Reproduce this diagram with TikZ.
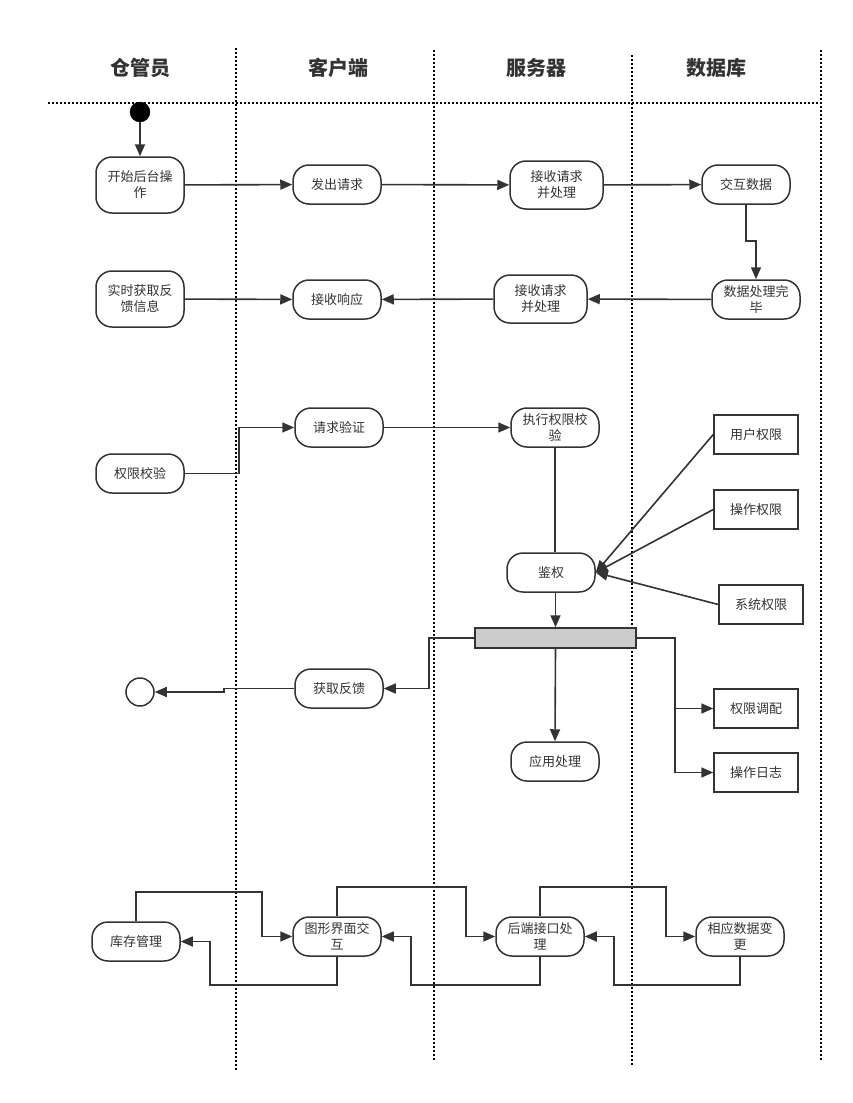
\documentclass[tikz,border=0pt]{standalone}
\usepackage{fontspec}
\setmainfont{Noto Sans CJK SC}
\usetikzlibrary{arrows.meta}
\definecolor{ink}{HTML}{333333}
\definecolor{barfill}{HTML}{CCCCCC}
\begin{document}
\begin{tikzpicture}[x=1pt,y=-1pt,
  act/.style={draw=ink, line width=1.5pt, rounded corners=16pt, align=center,
    font=\fontsize{13}{16}\selectfont, text=ink, inner sep=0pt,
    minimum width=88pt, minimum height=39pt},
  blk/.style={draw=ink, line width=1.5pt, align=center,
    font=\fontsize{13}{16}\selectfont, text=ink, inner sep=0pt,
    minimum width=84pt, minimum height=39pt},
  lane/.style={line width=1.2pt, dash pattern=on 1.5pt off 2.5pt, draw=black},
  hdr/.style={font=\fontsize{20}{24}\selectfont\bfseries, text=ink},
  arr/.style={line width=1.6pt, draw=ink, -{Triangle[length=12pt,width=10pt]}},
  ln/.style={line width=1.6pt, draw=ink}]
\useasboundingbox (0,0) rectangle (853,1103);
% swimlanes
\coordinate (l1t) at (236,48);  \coordinate (l1b) at (236,1070);
\coordinate (l2t) at (434,50);  \coordinate (l2b) at (434,1062);
\coordinate (l3t) at (632,55);  \coordinate (l3b) at (632,1065);
\coordinate (l4t) at (821,50);  \coordinate (l4b) at (821,1060);
\coordinate (hl) at (48,103);   \coordinate (hr) at (821,103);
\draw[lane] (l1t) -- (l1b);
\draw[lane] (l2t) -- (l2b);
\draw[lane] (l3t) -- (l3b);
\draw[lane] (l4t) -- (l4b);
\draw[lane] (hl) -- (hr);
% headers
\node[hdr] (h1) at (140,68) {仓管员};
\node[hdr] (h2) at (338,68) {客户端};
\node[hdr] (h3) at (536,68) {服务器};
\node[hdr] (h4) at (716,68) {数据库};
% start
\node[circle, fill=black, draw=black, minimum size=20pt, inner sep=0pt] (start) at (140,112) {};
% row 1
\node[act, minimum height=56pt] (a1) at (140,185) {开始后台操\\作};
\node[act] (a2) at (337,184.5) {发出请求};
\node[act, minimum width=93pt, minimum height=48pt] (a3) at (556.5,185) {接收请求\\并处理};
\node[act] (a4) at (746,184.5) {交互数据};
% row 2
\node[act, minimum height=56pt] (b1) at (140,299) {实时获取反\\馈信息};
\node[act] (b2) at (337,299.5) {接收响应};
\node[act, minimum width=93pt, minimum height=48pt] (b3) at (540.5,299) {接收请求\\并处理};
\node[act] (b4) at (756,299.5) {数据处理完\\毕};
% row 3
\node[act] (c1) at (140,473.5) {权限校验};
\node[act] (c2) at (339,427.5) {请求验证};
\node[act] (c3) at (555,427.5) {执行权限校\\验};
\node[blk] (c4) at (756,434.5) {用户权限};
\node[blk] (c5) at (756,509.5) {操作权限};
\node[blk] (c6) at (761,604.5) {系统权限};
\node[act] (d1) at (551,572.5) {鉴权};
\node[draw=ink, line width=1.5pt, fill=barfill, minimum width=161pt, minimum height=20pt, inner sep=0pt] (bar) at (555.5,638) {};
\node[act] (d2) at (339,688.5) {获取反馈};
\node[circle, draw=ink, line width=1.5pt, fill=white, minimum size=28pt, inner sep=0pt] (end) at (140,692) {};
\node[act] (d3) at (555,761.5) {应用处理};
\node[blk] (d4) at (756,708.5) {权限调配};
\node[blk] (d5) at (756,772.5) {操作日志};
% row 4
\node[act] (e1) at (136,941.5) {库存管理};
\node[act] (e2) at (337,936.5) {图形界面交\\互};
\node[act] (e3) at (540,936.5) {后端接口处\\理};
\node[act] (e4) at (740,936.5) {相应数据变\\更};
% connectors
\draw[arr] (start) -- (a1);
\draw[arr] (a1) -- (a2);
\draw[arr] (a2) -- (a3);
\draw[arr] (a3) -- (a4);
\draw[arr] (a4.south) -- (746,241) -- (756,241) -- (b4.north);
\draw[arr] (b1) -- (b2);
\draw[arr] (b3) -- (b2);
\draw[arr] (b4) -- (b3);
\draw[arr] (c1.east) -- (239,473.5) -- (239,427.5) -- (c2.west);
\draw[arr] (c2) -- (c3);
\draw[ln] (c3.south) -- (c3.south |- d1.north);
\draw[arr] (c4.west) -- (d1.east);
\draw[arr] (c5.west) -- (d1.east);
\draw[arr] (c6.west) -- (d1.east);
\draw[arr] (d1.south -| bar.north) -- (bar.north);
\draw[arr] (bar.west) -- (429,638) -- (429,688.5) -- (d2.east);
\draw[arr] (d2.west) -- (224,688.5) -- (224,692) -- (end.east);
\draw[arr] (bar.south) -- (d3.north);
\draw[arr] (bar.east) -- (675,638) -- (675,708.5) -- (d4.west);
\draw[arr] (675,708.5) -- (675,772.5) -- (d5.west);
\draw[arr] (e1.north) -- (136,892) -- (262,892) -- (262,936.5) -- (e2.west);
\draw[arr] (e2.south) -- (337,985) -- (210,985) -- (210,941.5) -- (e1.east);
\draw[arr] (e2.north) -- (337,887) -- (466,887) -- (466,936.5) -- (e3.west);
\draw[arr] (e3.south) -- (540,985) -- (411,985) -- (411,936.5) -- (e2.east);
\draw[arr] (e3.north) -- (540,887) -- (666,887) -- (666,936.5) -- (e4.west);
\draw[arr] (e4.south) -- (740,985) -- (614,985) -- (614,936.5) -- (e3.east);
\end{tikzpicture}
\end{document}
